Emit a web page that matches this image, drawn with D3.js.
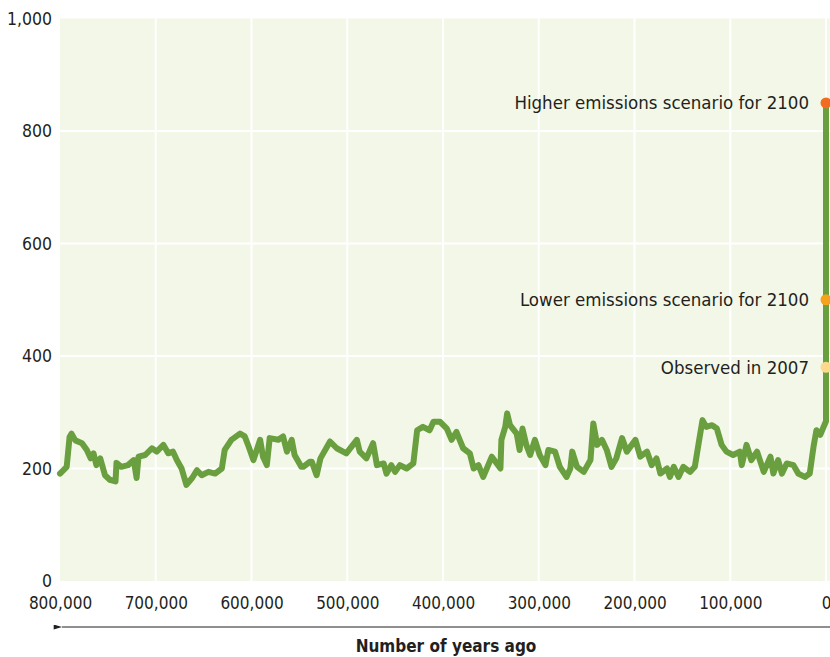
<!DOCTYPE html>
<html lang="en">
<head>
<meta charset="UTF-8">
<title>CO2 over 800,000 years</title>
<script src="https://cdn.jsdelivr.net/npm/d3@7"></script>
<style>
  body { margin: 0; background: #fff; }
  text { font-family: "Liberation Sans Narrow", "DejaVu Sans Condensed", "Roboto", sans-serif; fill: #231f20; }
</style>
</head>
<body>
<svg width="830" height="657" id="svgcontainer"></svg>
<script>
    // thousands of years ago
    const yearsAgo = [800, 793, 790, 788, 784, 777, 772, 768, 765, 762, 758, 753, 748, 742, 741, 736, 729, 723, 720, 718,
        711, 704, 699, 692, 687, 682, 678, 673, 668, 662, 657, 652, 645, 638, 631, 628, 621, 612, 607, 603,
        598, 591, 588, 584, 581, 572, 567, 563, 558, 555, 548, 546, 539, 537, 532, 528, 518, 511, 501, 490,
        487, 480, 473, 469, 462, 459, 454, 450, 445, 438, 431, 427, 421, 414, 410, 403, 396, 391, 386, 379,
        372, 368, 363, 358, 349, 340, 339, 335, 333, 330, 323, 320, 317, 313, 309, 304, 299, 293, 290, 283,
        278, 271, 267, 265, 260, 253, 246, 243, 239, 234, 229, 224, 219, 213, 208, 199, 194, 187, 182, 177,
        173, 166, 163, 159, 154, 149, 142, 137, 133, 129, 125, 119, 114, 109, 104, 97, 90, 88, 83, 78,
        72, 65, 58, 55, 50, 46, 41, 34, 29, 22, 17, 13, 10, 6, 1, 0];
    // carbon dioxide, parts per million
    const co2 = [191, 203, 256, 262, 250, 245, 233, 218, 227, 206, 218, 188, 180, 177, 210, 203, 206, 215, 183, 221,
        224, 236, 230, 242, 227, 230, 215, 200, 171, 183, 197, 188, 194, 191, 200, 233, 251, 262, 257, 239,
        215, 251, 221, 206, 254, 251, 257, 230, 251, 224, 203, 203, 212, 212, 188, 218, 248, 236, 227, 251,
        230, 218, 245, 206, 209, 191, 206, 194, 206, 200, 209, 268, 274, 268, 283, 283, 271, 251, 265, 236,
        227, 200, 206, 185, 221, 200, 251, 274, 298, 277, 262, 233, 271, 242, 224, 251, 224, 206, 233, 230,
        203, 185, 200, 230, 203, 194, 215, 280, 242, 251, 233, 203, 218, 254, 230, 251, 221, 230, 206, 218,
        191, 200, 185, 203, 185, 203, 194, 203, 245, 286, 274, 277, 271, 242, 230, 224, 230, 206, 242, 215,
        230, 194, 221, 191, 215, 191, 209, 206, 191, 185, 191, 239, 268, 260, 280, 284];

    const scenarioNames = ['Higher emissions scenario for 2100', 'Lower emissions scenario for 2100', 'Observed in 2007'];
    const scenarioValues = [850, 500, 380];
    const scenarioColors = ['#f26b21', '#f7a21b', '#fdd98b'];

    const xTicks = [800, 700, 600, 500, 400, 300, 200, 100, 0];
    const yTicks = [0, 200, 400, 600, 800, 1000];

    const svg = d3.select('#svgcontainer');
    const plot = {left: 60, right: 826, top: 18.5, bottom: 581};

    const xScale = d3.scaleLinear().domain([800, 0]).range([plot.left, plot.right]);
    const yScale = d3.scaleLinear().domain([0, 1000]).range([plot.bottom, plot.top]);
    const font = '"Liberation Sans Narrow", "DejaVu Sans Condensed", sans-serif';

    // plot background
    svg.append('rect').attr('x', plot.left).attr('y', plot.top)
        .attr('width', 830 - plot.left).attr('height', plot.bottom - plot.top)
        .attr('fill', '#f3f7e8');

    // grid
    const grid = svg.append('g');
    grid.selectAll('.vgrid').data(xTicks.filter(d => d !== 800)).join('line').attr('class', 'vgrid')
        .attr('x1', d => xScale(d)).attr('x2', d => xScale(d)).attr('y1', plot.top).attr('y2', plot.bottom)
        .attr('stroke', '#fff').attr('stroke-width', 2);
    grid.selectAll('.hgrid').data(yTicks.filter(d => d !== 0 && d !== 1000)).join('line').attr('class', 'hgrid')
        .attr('x1', plot.left).attr('x2', 830).attr('y1', d => yScale(d)).attr('y2', d => yScale(d))
        .attr('stroke', '#fff').attr('stroke-width', 2);

    // axes
    const yAxis = d3.axisLeft(yScale).tickValues(yTicks).tickSize(0).tickPadding(8).tickFormat(d3.format(','));
    const gy = svg.append('g').attr('transform', `translate(${plot.left},0)`).call(yAxis);
    gy.select('.domain').remove();
    gy.selectAll('.tick text').attr('font-size', 17.5).attr('fill', '#231f20').attr('font-family', font);

    const xAxis = d3.axisBottom(xScale).tickValues(xTicks).tickSize(0).tickPadding(16)
        .tickFormat(d => d3.format(',')(d * 1000));
    const gx = svg.append('g').attr('transform', `translate(0,${plot.bottom})`).call(xAxis);
    gx.select('.domain').remove();
    gx.selectAll('.tick text').attr('font-size', 17).attr('fill', '#231f20').attr('font-family', font);

    // arrow under the axis
    svg.append('defs').append('marker').attr('id', 'arrow').attr('viewBox', '0 0 10 6')
        .attr('refX', 0).attr('refY', 3).attr('markerWidth', 10).attr('markerHeight', 5)
        .attr('markerUnits', 'userSpaceOnUse').attr('orient', 'auto-start-reverse')
        .append('path').attr('d', 'M0,3 L10,0 L10,6 Z').attr('fill', '#231f20');
    svg.append('line').attr('x1', 62).attr('x2', 830).attr('y1', 627).attr('y2', 627)
        .attr('stroke', '#231f20').attr('stroke-width', 1).attr('marker-start', 'url(#arrow)');

    svg.append('text').text('Number of years ago').attr('x', 446).attr('y', 652)
        .attr('text-anchor', 'middle').attr('font-size', 17).attr('font-weight', 'bold');

    // CO2 record plus projection
    const series = yearsAgo.map((d, i) => [d, co2[i]]);
    series.push([0, d3.max(scenarioValues)]);
    const line = d3.line().x(d => xScale(d[0])).y(d => yScale(d[1]));
    svg.append('path').datum(series).attr('d', line).attr('fill', 'none')
        .attr('stroke', '#6a9f3f').attr('stroke-width', 6)
        .attr('stroke-linejoin', 'round').attr('stroke-linecap', 'round');

    // scenario markers
    svg.selectAll('.dot').data(scenarioValues).join('circle').attr('class', 'dot')
        .attr('cx', xScale(0)).attr('cy', d => yScale(d)).attr('r', 5.5)
        .attr('fill', (d, i) => scenarioColors[i]);
    svg.selectAll('.lab').data(scenarioValues).join('text').attr('class', 'lab')
        .attr('x', xScale(0) - 17).attr('y', d => yScale(d)).attr('dy', '0.35em')
        .attr('text-anchor', 'end').attr('font-size', 18.5).text((d, i) => scenarioNames[i]);
</script>
</body>
</html>
